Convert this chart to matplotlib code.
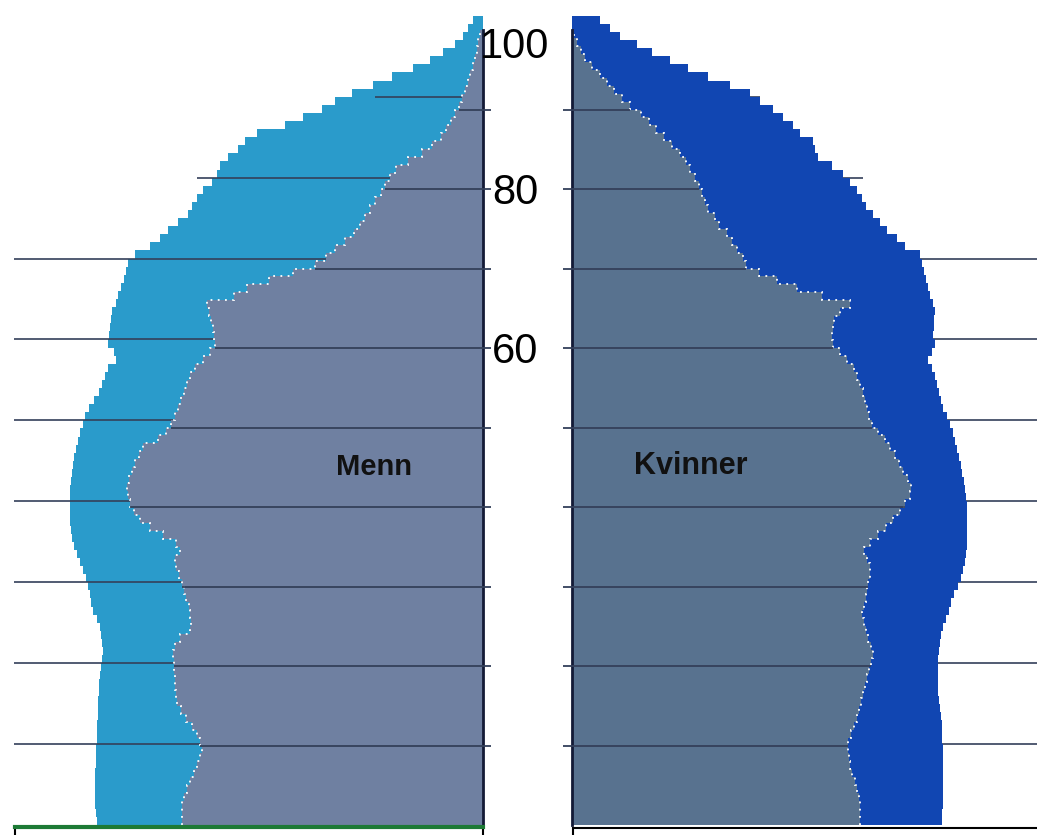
import matplotlib.pyplot as plt
from matplotlib.patches import Rectangle
from matplotlib.lines import Line2D
import numpy as np

plt.rcParams['font.family'] = ['Liberation Sans', 'DejaVu Sans']

# one bar per one-year age group, values in thousands of persons
ages = np.arange(101)   # bar edges 0..100

men_outer = [38.6, 38.7, 38.8, 38.8, 38.8, 38.8, 38.8, 38.7, 38.7, 38.7,
             38.6, 38.6, 38.6, 38.5, 38.5, 38.5, 38.4, 38.4, 38.3, 38.2,
             38.1, 38.0, 38.1, 38.2, 38.3, 38.6, 39.0, 39.2, 39.3, 39.5,
             39.7, 40.0, 40.3, 40.6, 40.9, 41.1, 41.2, 41.3, 41.3, 41.3,
             41.3, 41.3, 41.2, 41.1, 41.0, 40.9, 40.7, 40.5, 40.3, 40.0,
             39.8, 39.4, 38.9, 38.4, 38.1, 37.8, 37.5, 36.7, 36.9, 37.5,
             37.4, 37.3, 37.2, 37.1, 36.7, 36.5, 36.2, 35.9, 35.7, 35.5,
             34.8, 33.3, 32.3, 31.5, 30.5, 29.5, 29.1, 28.6, 28.0, 27.1,
             26.6, 26.3, 25.5, 24.5, 23.8, 22.6, 19.8, 18.0, 16.1, 14.8,
             13.1, 11.0, 9.1, 7.0, 5.3, 4.0, 2.8, 2.0, 1.5, 1.0]

men_inner = [30.1, 30.1, 30.1, 29.9, 29.6, 29.3, 28.9, 28.6, 28.3, 28.1,
             28.3, 28.6, 29.1, 29.7, 30.2, 30.6, 30.7, 30.8, 30.8, 30.9,
             30.9, 31.0, 30.8, 30.3, 29.3, 29.2, 29.3, 29.4, 29.7, 29.9,
             30.1, 30.4, 30.7, 30.8, 30.3, 30.7, 32.0, 33.3, 34.3, 34.9,
             35.3, 35.5, 35.6, 35.4, 35.1, 34.8, 34.4, 34.0, 32.5, 31.7,
             31.2, 30.8, 30.5, 30.2, 29.9, 29.6, 29.3, 28.8, 28.0, 27.3,
             26.8, 26.9, 27.0, 27.2, 27.4, 27.6, 24.9, 23.6, 21.4, 19.0,
             16.8, 15.7, 14.8, 13.8, 12.9, 12.3, 11.8, 11.3, 10.8, 10.2,
             9.8, 9.3, 8.7, 7.5, 6.1, 5.1, 4.2, 3.7, 3.2, 2.8,
             2.4, 2.1, 1.8, 1.5, 1.3, 1.0, 0.8, 0.6, 0.5, 0.3]

women_outer = [37.0, 37.0, 37.1, 37.1, 37.1, 37.1, 37.1, 37.1, 37.1, 37.1,
               37.0, 37.0, 37.0, 36.9, 36.8, 36.7, 36.6, 36.6, 36.6, 36.6,
               36.6, 36.7, 36.8, 36.9, 37.1, 37.4, 37.7, 37.9, 38.2, 38.6,
               38.9, 39.1, 39.3, 39.4, 39.5, 39.5, 39.5, 39.5, 39.5, 39.5,
               39.4, 39.3, 39.2, 39.0, 38.9, 38.7, 38.5, 38.3, 38.1, 37.8,
               37.5, 37.1, 36.9, 36.7, 36.5, 36.3, 36.0, 35.6, 36.0, 36.3,
               36.1, 36.2, 36.2, 36.3, 36.1, 35.8, 35.6, 35.4, 35.2, 35.0,
               34.8, 33.3, 32.5, 31.5, 30.8, 30.1, 29.4, 29.0, 28.5, 27.8,
               27.1, 26.0, 24.6, 24.3, 24.1, 22.8, 22.1, 21.1, 20.1, 18.8,
               17.8, 15.8, 13.6, 11.6, 9.8, 8.0, 6.5, 4.8, 3.8, 2.8]

women_inner = [28.8, 28.8, 28.8, 28.7, 28.5, 28.3, 28.0, 27.8, 27.7, 27.6,
               27.6, 27.9, 28.2, 28.5, 28.7, 28.9, 29.1, 29.3, 29.5, 29.7,
               29.9, 30.1, 29.9, 29.6, 29.4, 29.2, 29.0, 29.2, 29.4, 29.5,
               29.6, 29.8, 29.8, 29.5, 29.2, 29.8, 30.6, 31.4, 32.1, 32.8,
               33.3, 33.8, 33.9, 33.6, 33.1, 32.7, 32.3, 31.8, 31.3, 30.6,
               30.0, 29.7, 29.5, 29.3, 29.1, 28.8, 28.5, 28.2, 27.5, 26.8,
               26.1, 26.0, 26.1, 26.2, 26.8, 27.8, 25.0, 22.5, 20.5, 18.7,
               17.4, 17.1, 16.5, 16.0, 15.5, 14.7, 14.3, 13.6, 13.3, 13.0,
               12.7, 12.3, 11.8, 11.4, 10.8, 10.0, 9.2, 8.4, 7.7, 6.9,
               5.8, 5.0, 4.2, 3.5, 2.8, 2.0, 1.3, 0.9, 0.5, 0.2]

grid_ages = [10, 20, 30, 40, 50, 60, 70, 80, 90]
tick_ages = [100, 80, 60]
tick_labels = ['100', '80', '60']

# colours
men_outer_c = '#2a9bcb'
men_inner_c = '#6f80a1'
women_outer_c = '#1146b2'
women_inner_c = '#58728f'
grid_c = '#34405a'
axis_c = '#131a36'

W, H = 1037, 835
fig = plt.figure(figsize=(W / 100, H / 100), dpi=100)


def box(x0, y_top, x1, y_bot):
    # pixel box -> figure fraction
    return [x0 / W, 1 - y_bot / H, (x1 - x0) / W, (y_bot - y_top) / H]


ax_mo = fig.add_axes(box(0, 15, 483, 825))
ax_wo = fig.add_axes(box(572, 15, 1037, 825))
ax_mi = fig.add_axes(box(0, 30, 483, 825))
ax_wi = fig.add_axes(box(572, 30, 1037, 825))

for ax in (ax_mo, ax_wo, ax_mi, ax_wi):
    ax.patch.set_visible(False)
    for s in ax.spines.values():
        s.set_visible(False)
    ax.set_xticks([])
    ax.set_yticks([])

ax_mo.set_xlim(48.3, 0)
ax_mi.set_xlim(48.3, 0)
ax_wo.set_xlim(0, 46.5)
ax_wi.set_xlim(0, 46.5)
ax_mo.set_ylim(0, 100.1)
ax_wo.set_ylim(0, 100.1)
ax_mi.set_ylim(0, 100)
ax_wi.set_ylim(0, 100)

# outer (projected) population
ax_mo.stairs(men_outer, ages, orientation='horizontal', baseline=0, fill=True,
             color=men_outer_c, lw=0, zorder=2)
ax_wo.stairs(women_outer, ages, orientation='horizontal', baseline=0, fill=True,
             color=women_outer_c, lw=0, zorder=2)

# grid of the outer chart, reaching out to the page edge lower down
men_reach = [46.9, 46.9, 46.9, 46.9, 46.9, 46.9, 46.9, 28.6, 10.8]
women_reach = [46.5, 46.5, 46.5, 46.5, 46.5, 46.5, 46.5, 29.1, 18.8]
ax_mo.hlines(grid_ages, 0, men_reach, colors=grid_c, lw=1.2, zorder=3)
ax_wo.hlines(grid_ages, 0, women_reach, colors=grid_c, lw=1.2, zorder=1)

# inner (current) population
ax_mi.stairs(men_inner, ages, orientation='horizontal', baseline=0, fill=True,
             color=men_inner_c, lw=0)
ax_wi.stairs(women_inner, ages, orientation='horizontal', baseline=0, fill=True,
             color=women_inner_c, lw=0)
ax_mi.stairs(men_inner, ages, orientation='horizontal', baseline=None,
             color='white', lw=1.3, linestyle=(0, (1, 3)))
ax_wi.stairs(women_inner, ages, orientation='horizontal', baseline=None,
             color='white', lw=1.3, linestyle=(0, (1, 3)))

ax_mi.hlines(grid_ages, -0.8, [men_inner[a] for a in grid_ages],
             colors=grid_c, lw=1.3, clip_on=False, zorder=3)
ax_wi.hlines(grid_ages, -0.9, [women_inner[a] for a in grid_ages],
             colors=grid_c, lw=1.3, clip_on=False, zorder=3)

ax_mi.spines['right'].set_visible(True)
ax_mi.spines['right'].set_color(axis_c)
ax_mi.spines['right'].set_linewidth(2)
ax_wi.spines['left'].set_visible(True)
ax_wi.spines['left'].set_color(axis_c)
ax_wi.spines['left'].set_linewidth(2)

# age labels in the gap between the halves
for a, lab in zip(tick_ages, tick_labels):
    ax_mi.text(-3.2, min(a, 98.4) - 1.9, lab, ha='center', va='baseline',
               fontsize=30, color='black', clip_on=False)

ax_mi.text(10.9, 45.0, 'Menn', ha='center', va='center', fontsize=21,
           fontweight='bold', color='#111111')
ax_wi.text(11.9, 45.1, 'Kvinner', ha='center', va='center', fontsize=22,
           fontweight='bold', color='#111111')

# frames of the boxes below the pyramid
fig.add_artist(Rectangle((15 / W, -0.02), (483 - 15) / W, 0.02 + (835 - 827) / H,
                         transform=fig.transFigure, fill=False,
                         edgecolor='black', lw=1.5))
fig.add_artist(Line2D([15 / W, 483 / W], [1 - 827 / H] * 2,
                      transform=fig.transFigure, color='#1d7a35', lw=3))
fig.add_artist(Rectangle((573 / W, -0.02), 0.5, 0.02 + (835 - 828) / H,
                         transform=fig.transFigure, fill=False,
                         edgecolor='black', lw=1.5))

fig.savefig('out.png', dpi=100)
